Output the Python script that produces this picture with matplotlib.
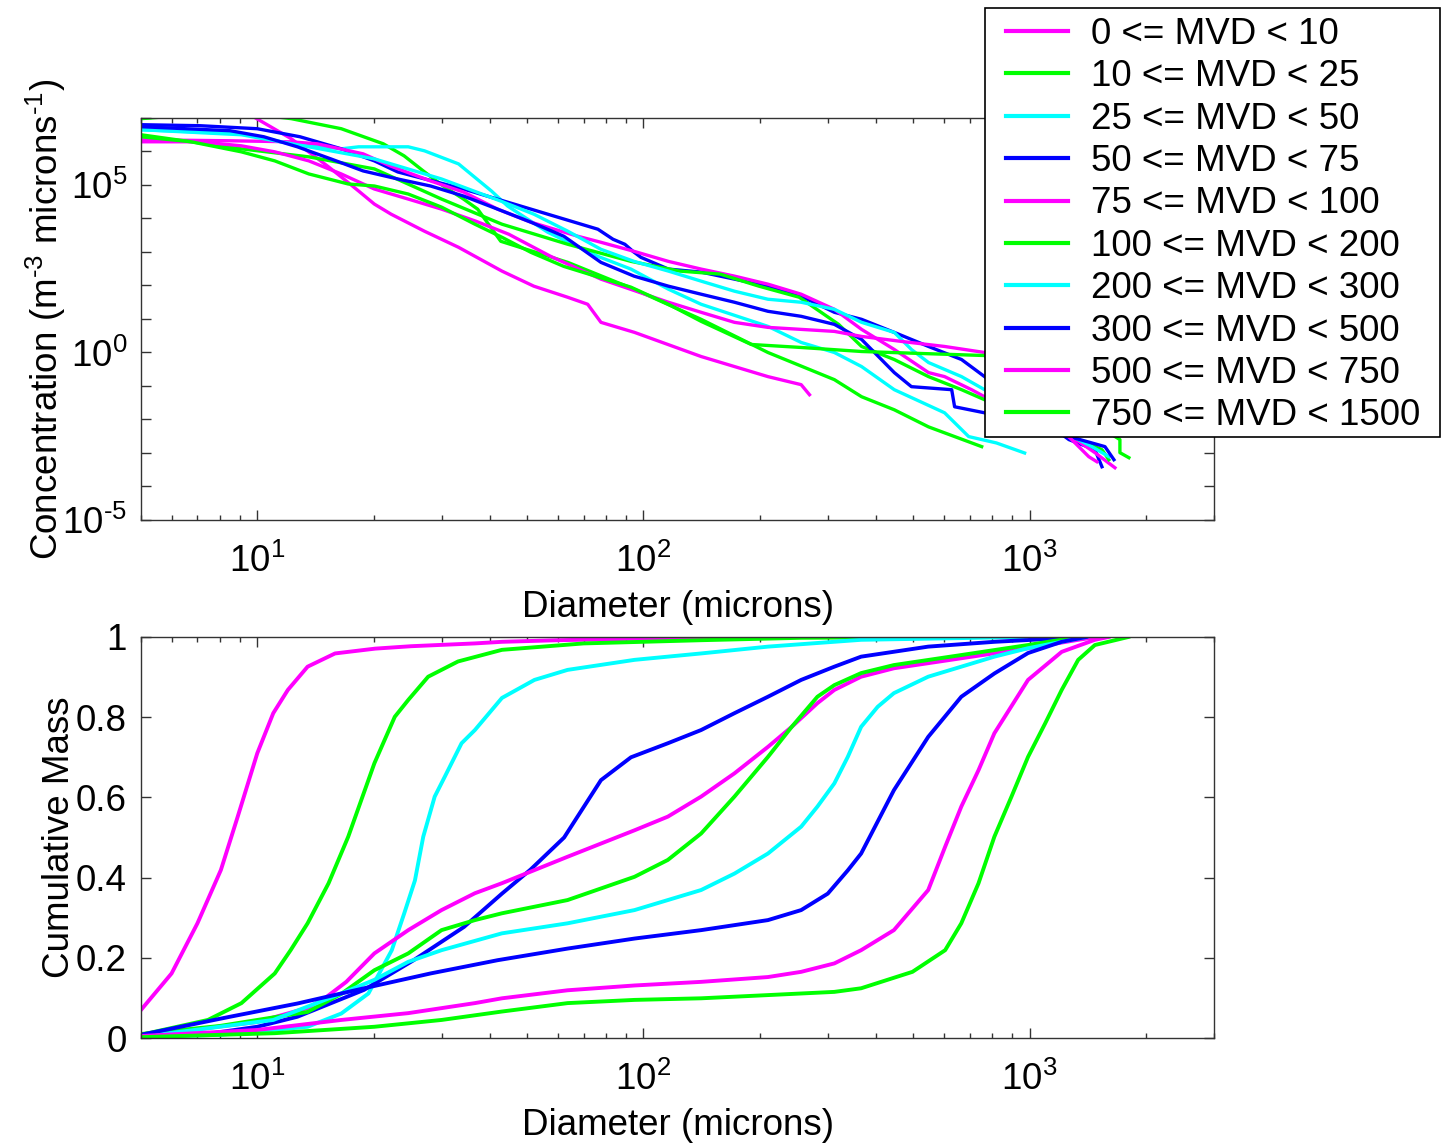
import matplotlib
matplotlib.use("Agg")
import numpy as np
import matplotlib.pyplot as plt
from matplotlib.patches import Rectangle
from matplotlib.ticker import FixedLocator, FixedFormatter, NullLocator, NullFormatter, LogLocator

plt.rcParams['font.family'] = ['Liberation Sans', 'DejaVu Sans']
plt.rcParams['mathtext.fontset'] = 'custom'
plt.rcParams['mathtext.rm'] = 'Liberation Sans'
plt.rcParams['mathtext.it'] = 'Liberation Sans:italic'
plt.rcParams['mathtext.bf'] = 'Liberation Sans:bold'

# MVD bins and their line colours
labels = ["0 <= MVD < 10", "10 <= MVD < 25", "25 <= MVD < 50", "50 <= MVD < 75",
          "75 <= MVD < 100", "100 <= MVD < 200", "200 <= MVD < 300", "300 <= MVD < 500",
          "500 <= MVD < 750", "750 <= MVD < 1500"]
colors = ["#ff00ff", "#00ff00", "#00ffff", "#0000ff", "#ff00ff",
          "#00ff00", "#00ffff", "#0000ff", "#ff00ff", "#00ff00"]

# Size distributions: diameter (microns) and log10 concentration (m^-3 microns^-1)
nd_d_0_10 = [8.5, 9.9, 12.25, 15.3, 16.5, 18.3, 20.1, 22.2, 27.1, 33.2, 43, 52, 63.6, 71.7, 77.6, 94.8, 141, 210, 256, 269]
nd_c_0_10 = [7.4, 7.0, 6.38, 5.54, 5.24, 4.82, 4.43, 4.13, 3.62, 3.14, 2.43, 1.98, 1.65, 1.44, 0.90, 0.60, -0.12, -0.72, -0.96, -1.26]

nd_d_10_25 = [5, 6, 8, 10, 12.25, 16.5, 21.2, 24, 26.9, 30.3, 34.2, 37.2, 39.7, 42.7, 63.7, 94.5, 141, 210, 312, 367, 446, 547, 751]
nd_c_10_25 = [6.98, 7.05, 7.15, 7.1, 6.98, 6.68, 6.23, 5.87, 5.42, 4.97, 4.58, 4.28, 3.83, 3.32, 2.69, 1.89, 0.99, 0.0, -0.81, -1.32, -1.71, -2.22, -2.81]

nd_d_25_50 = [5, 9.09, 12.25, 16.5, 18.3, 24.6, 27.1, 33.2, 40.4, 44.5, 56.5, 76.2, 92.8, 116, 141, 172, 210, 256, 312, 367, 446, 602, 695, 820, 970]
nd_c_25_50 = [6.65, 6.53, 6.23, 6.08, 6.14, 6.14, 6.02, 5.63, 4.82, 4.37, 3.59, 2.87, 2.49, 1.89, 1.44, 1.11, 0.78, 0.30, 0.00, -0.42, -1.11, -1.80, -2.51, -2.70, -3.00]

nd_d_50_75 = [5, 7.11, 10, 12.9, 16.5, 20.1, 23.1, 34.2, 51.1, 76.2, 83.4, 89.5, 93.9, 98.5, 116, 141, 172, 210, 256, 312, 367, 446, 547, 666, 764, 1263, 1475, 1538]
nd_c_50_75 = [6.80, 6.77, 6.68, 6.44, 6.08, 5.72, 5.39, 4.88, 4.28, 3.68, 3.38, 3.23, 3.02, 2.84, 2.49, 2.40, 2.19, 1.98, 1.68, 1.20, 0.99, 0.60, 0.18, -0.21, -0.72, -2.60, -2.90, -3.41]

nd_d_75_100 = [5, 8.51, 12.2, 14.3, 18.8, 22.1, 28.1, 34.2, 41.9, 51.1, 67.6, 77.6, 94.5, 116, 141, 172, 210, 256, 312, 367, 446, 547, 602, 707, 764, 1340, 1475, 1662]
nd_c_75_100 = [6.35, 6.32, 6.29, 6.23, 5.93, 5.57, 5.12, 4.79, 4.28, 3.89, 3.47, 3.29, 3.02, 2.72, 2.49, 2.28, 2.04, 1.74, 1.29, 0.69, 0.09, -0.60, -0.72, -1.11, -1.32, -2.66, -2.99, -3.44]

nd_d_100_200 = [5, 9.09, 13.6, 20.1, 30.0, 43.0, 63.7, 92.8, 124, 158, 199, 253, 320, 367, 446, 547, 666, 764, 1340, 1538, 1603]
nd_c_100_200 = [6.50, 6.08, 5.84, 5.48, 4.58, 3.83, 3.23, 2.72, 2.43, 2.34, 1.98, 1.65, 0.84, 0.18, -0.21, -0.72, -1.11, -1.41, -2.60, -2.90, -3.20]

nd_d_200_300 = [5, 9.09, 13.6, 20.1, 30.0, 42.7, 52.0, 63.7, 77.6, 94.5, 116, 141, 172, 210, 256, 312, 367, 446, 494, 547, 666, 764, 1448, 1603]
nd_c_200_300 = [6.65, 6.50, 6.14, 5.78, 5.18, 4.52, 4.13, 3.62, 3.08, 2.72, 2.43, 2.13, 1.83, 1.59, 1.50, 1.29, 0.90, 0.60, 0.09, -0.30, -0.72, -1.11, -2.81, -3.11]

nd_d_300_500 = [5, 8.51, 10.4, 12.7, 15.5, 18.8, 23.1, 28.1, 34.2, 41.9, 51.1, 62.2, 77.6, 94.5, 116, 141, 172, 210, 256, 312, 367, 446, 494, 628, 639, 764, 1566, 1652]
nd_c_300_500 = [6.74, 6.62, 6.44, 6.14, 5.78, 5.42, 5.18, 4.97, 4.67, 4.28, 3.89, 3.47, 2.69, 2.28, 1.98, 1.74, 1.50, 1.23, 1.08, 0.84, 0.39, -0.60, -1.02, -1.11, -1.62, -1.80, -2.81, -3.20]

nd_d_500_750 = [5, 7.11, 9.09, 11.1, 13.6, 16.5, 20.1, 24.6, 30.0, 36.8, 44.8, 57.5, 77.6, 116, 141, 172, 210, 312, 367, 466, 602, 764, 1422, 1492]
nd_c_500_750 = [6.29, 6.29, 6.17, 5.99, 5.72, 5.33, 4.88, 4.58, 4.28, 3.92, 3.53, 2.87, 2.19, 1.50, 1.20, 0.90, 0.75, 0.63, 0.48, 0.33, 0.18, 0.00, -3.11, -3.26]

nd_d_750_1500 = [5, 6.74, 9.09, 11.1, 13.6, 15.3, 17.2, 20.1, 24.6, 30.0, 36.6, 43.0, 51.1, 62.2, 92.8, 116, 141, 190, 256, 367, 525, 764, 1712, 1712, 1806]
nd_c_750_1500 = [6.44, 6.29, 5.99, 5.72, 5.33, 5.18, 5.03, 4.97, 4.73, 4.34, 3.83, 3.44, 2.99, 2.57, 1.95, 1.44, 0.93, 0.24, 0.15, 0.03, -0.03, -0.09, -2.60, -2.99, -3.14]

# Cumulative mass fraction vs diameter (microns)
cm_d_0_10 = [5, 6, 7, 8.05, 8.9, 10, 11, 12, 13.5, 15.9, 20.2, 25, 36.6, 43, 60, 100, 150, 270]
cm_f_0_10 = [0.07, 0.161, 0.286, 0.419, 0.552, 0.71, 0.81, 0.868, 0.926, 0.959, 0.971, 0.977, 0.984, 0.988, 0.992, 0.996, 1.0, 1.0]

cm_d_10_25 = [5, 7.45, 9.1, 11.1, 12.2, 13.5, 15.3, 17.2, 20.1, 22.7, 24.6, 27.7, 33.1, 43, 70, 141, 256, 751]
cm_f_10_25 = [0.008, 0.045, 0.087, 0.161, 0.219, 0.286, 0.386, 0.502, 0.685, 0.801, 0.843, 0.901, 0.939, 0.968, 0.984, 0.992, 0.998, 1.0]

cm_d_25_50 = [5, 8, 13.5, 16.5, 19.4, 20.9, 22.3, 24, 25.6, 26.9, 28.8, 30.6, 33.8, 36.6, 43, 52.2, 63.6, 94.8, 141, 210, 366, 970]
cm_f_25_50 = [0.003, 0.008, 0.028, 0.061, 0.111, 0.169, 0.219, 0.31, 0.393, 0.502, 0.602, 0.652, 0.735, 0.768, 0.848, 0.893, 0.918, 0.943, 0.959, 0.976, 0.993, 1.0]

cm_d_50_75 = [5, 7.4, 10, 12.7, 18.9, 25.4, 34.3, 43, 51, 62.3, 77.6, 92.8, 115.6, 141, 172, 210, 256, 312, 366, 546, 810, 1210, 1538]
cm_f_50_75 = [0.005, 0.01, 0.028, 0.053, 0.12, 0.194, 0.277, 0.36, 0.42, 0.50, 0.643, 0.70, 0.735, 0.768, 0.81, 0.851, 0.893, 0.926, 0.951, 0.976, 0.988, 0.997, 1.0]

cm_d_75_100 = [5, 10, 13.5, 15, 17, 20.1, 24.6, 30, 36.6, 43, 63.6, 94.8, 115.6, 141, 172, 210, 242, 282, 312, 366, 445, 665, 990, 1335, 1492]
cm_f_75_100 = [0.005, 0.04, 0.075, 0.1, 0.14, 0.211, 0.269, 0.319, 0.361, 0.386, 0.452, 0.518, 0.552, 0.602, 0.66, 0.726, 0.776, 0.835, 0.868, 0.901, 0.922, 0.947, 0.972, 0.993, 1.0]

cm_d_100_200 = [5, 8, 10, 13.5, 16.5, 20.1, 24.6, 30, 36.6, 43, 63.6, 94.8, 115.6, 141, 172, 210, 242, 282, 312, 366, 445, 665, 990, 1335]
cm_f_100_200 = [0.01, 0.03, 0.045, 0.065, 0.11, 0.169, 0.211, 0.269, 0.294, 0.311, 0.344, 0.402, 0.444, 0.51, 0.602, 0.701, 0.776, 0.851, 0.88, 0.91, 0.93, 0.955, 0.98, 1.0]

cm_d_200_300 = [5, 11, 16.5, 20.1, 24.6, 30, 43, 63.6, 94.8, 141, 172, 210, 256, 282, 312, 338, 366, 404, 445, 546, 665, 810, 990, 1210, 1400]
cm_f_200_300 = [0.003, 0.045, 0.111, 0.145, 0.19, 0.219, 0.261, 0.286, 0.319, 0.369, 0.41, 0.46, 0.527, 0.577, 0.635, 0.701, 0.776, 0.826, 0.86, 0.901, 0.926, 0.951, 0.972, 0.988, 1.0]

cm_d_300_500 = [5, 8.5, 12.7, 18.9, 28.1, 41.9, 63.6, 94.8, 141, 210, 256, 300, 338, 366, 445, 546, 665, 810, 990, 1210, 1400]
cm_f_300_500 = [0.008, 0.053, 0.086, 0.124, 0.161, 0.194, 0.223, 0.248, 0.269, 0.294, 0.319, 0.36, 0.418, 0.46, 0.618, 0.751, 0.851, 0.909, 0.96, 0.988, 1.0]

cm_d_500_750 = [5, 10, 16.5, 24.6, 36.6, 43, 63.6, 94.8, 141, 210, 256, 312, 366, 445, 546, 604, 665, 737, 810, 990, 1210, 1475, 1600]
cm_f_500_750 = [0.005, 0.02, 0.045, 0.062, 0.087, 0.099, 0.119, 0.131, 0.14, 0.152, 0.165, 0.186, 0.219, 0.269, 0.369, 0.477, 0.577, 0.668, 0.76, 0.893, 0.963, 0.993, 1.0]

cm_d_750_1500 = [5, 11.1, 20.1, 30, 43, 63.6, 94.8, 141, 210, 312, 366, 497, 604, 665, 737, 810, 897, 990, 1097, 1210, 1335, 1475, 1800]
cm_f_750_1500 = [0.002, 0.012, 0.028, 0.045, 0.066, 0.087, 0.095, 0.099, 0.107, 0.115, 0.124, 0.165, 0.219, 0.286, 0.386, 0.502, 0.602, 0.701, 0.785, 0.868, 0.943, 0.98, 1.0]

nd_d = [nd_d_0_10, nd_d_10_25, nd_d_25_50, nd_d_50_75, nd_d_75_100,
        nd_d_100_200, nd_d_200_300, nd_d_300_500, nd_d_500_750, nd_d_750_1500]
nd_c = [nd_c_0_10, nd_c_10_25, nd_c_25_50, nd_c_50_75, nd_c_75_100,
        nd_c_100_200, nd_c_200_300, nd_c_300_500, nd_c_500_750, nd_c_750_1500]
cm_d = [cm_d_0_10, cm_d_10_25, cm_d_25_50, cm_d_50_75, cm_d_75_100,
        cm_d_100_200, cm_d_200_300, cm_d_300_500, cm_d_500_750, cm_d_750_1500]
cm_f = [cm_f_0_10, cm_f_10_25, cm_f_25_50, cm_f_50_75, cm_f_75_100,
        cm_f_100_200, cm_f_200_300, cm_f_300_500, cm_f_500_750, cm_f_750_1500]

W, H = 1441, 1145
fig = plt.figure(figsize=(W / 100, H / 100), dpi=100)
fs = 26.5

# axes rectangles in pixels (left, top, right, bottom)
ax1 = fig.add_axes([141 / W, 1 - 520 / H, (1214 - 141) / W, (520 - 118) / H])
ax2 = fig.add_axes([141 / W, 1 - 1038 / H, (1214 - 141) / W, (1038 - 637) / H])

for i in range(len(labels)):
    ax1.plot(nd_d[i], 10.0 ** np.array(nd_c[i]), color=colors[i], lw=2.4)
handles = []
for i in range(len(labels)):
    h, = ax2.plot(cm_d[i], cm_f[i], color=colors[i], lw=2.8, label=labels[i])
    handles.append(h)

for ax in (ax1, ax2):
    ax.set_xscale('log')
    ax.set_xlim(5, 3000)
    ax.xaxis.set_major_locator(FixedLocator([10, 100, 1000]))
    ax.xaxis.set_minor_locator(LogLocator(base=10, subs=np.arange(2, 10), numticks=20))
    ax.xaxis.set_minor_formatter(NullFormatter())
    ax.set_xticklabels([r'$\mathdefault{10^{1}}$', r'$\mathdefault{10^{2}}$', r'$\mathdefault{10^{3}}$'])
    ax.tick_params(which='both', direction='in', top=True, right=True,
                   labelsize=fs, width=1.0, color='#333333')
    ax.tick_params(axis='x', which='both', pad=17)
    ax.tick_params(axis='y', which='both', pad=10)
    ax.tick_params(which='major', length=7.5)
    ax.tick_params(which='minor', length=3.8)
    for s in ax.spines.values():
        s.set_color('#333333')
        s.set_linewidth(1.0)
    ax.set_xlabel('Diameter (microns)', fontsize=fs, labelpad=7)

ax1.set_yscale('log')
ax1.set_ylim(1e-5, 1e7)
ytk = [10.0 ** k for k in range(-5, 8)]
ytl = []
for k in range(-5, 8):
    if k == -5:
        ytl.append(r'$\mathdefault{10^{\text{-}5}}$')
    elif k in (0, 5):
        ytl.append(r'$\mathdefault{10^{%d}}$' % k)
    else:
        ytl.append('')
ax1.yaxis.set_major_locator(FixedLocator(ytk))
ax1.yaxis.set_major_formatter(FixedFormatter(ytl))
ax1.yaxis.set_minor_locator(NullLocator())
ax1.set_ylabel(r'Concentration (m$^{\text{-}3}$ microns$^{\text{-}1}$)', fontsize=fs)
ax1.yaxis.set_label_coords(-0.068, 0.5)

ax2.set_ylim(0, 1)
ax2.set_yticks([0, 0.2, 0.4, 0.6, 0.8, 1])
ax2.set_yticklabels(['0', '0.2', '0.4', '0.6', '0.8', '1'])
ax2.set_ylabel('Cumulative Mass', fontsize=fs)
ax2.yaxis.set_label_coords(-0.060, 0.5)

# legend box drawn separately so it can sit partly outside the axes
box = Rectangle((985 / W, 1 - 437 / H), (1440 - 985) / W, (437 - 8) / H,
                transform=fig.transFigure, facecolor='white', edgecolor='black',
                lw=1.2, zorder=4)
fig.add_artist(box)
leg = fig.legend(handles, labels, loc='upper left', bbox_to_anchor=(1006 / W, 1 - 17 / H),
                 fontsize=fs, frameon=False, borderaxespad=0, borderpad=0,
                 handlelength=1.68, handletextpad=0.62, labelspacing=0.2)
leg.set_zorder(5)
for ln in leg.get_lines():
    ln.set_linewidth(3.0)

fig.savefig('out.png', dpi=100)
